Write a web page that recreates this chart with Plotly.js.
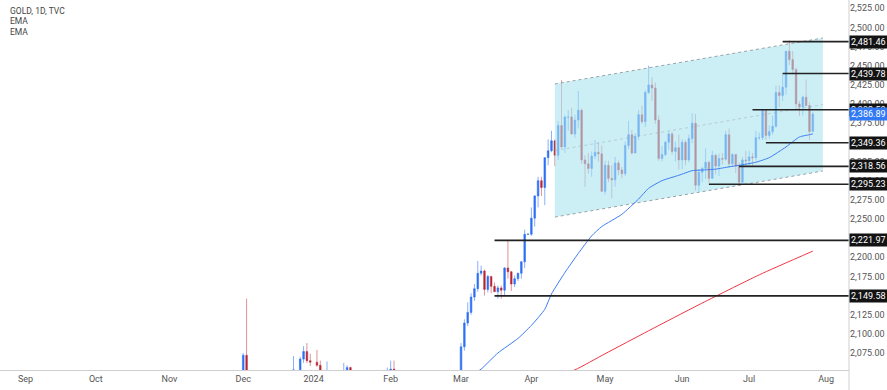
<!DOCTYPE html>
<html>
<head>
<meta charset="utf-8">
<script src="https://cdn.plot.ly/plotly-3.0.1.min.js"></script>
<style>
html,body{margin:0;padding:0;background:#fff;}
#chart{width:887px;height:390px;}
</style>
</head>
<body>
<div id="chart"></div>
<script>
// ---- Candles (daily, TVC:GOLD) ----
const dates = [
'2023-11-27','2023-11-28','2023-11-29','2023-11-30','2023-12-01','2023-12-04','2023-12-05','2023-12-06','2023-12-07','2023-12-08',
'2023-12-11','2023-12-12','2023-12-13','2023-12-14','2023-12-15','2023-12-18','2023-12-19','2023-12-20','2023-12-21','2023-12-22',
'2023-12-26','2023-12-27','2023-12-28','2023-12-29','2024-01-02','2024-01-03','2024-01-04','2024-01-05','2024-01-08','2024-01-09',
'2024-01-10','2024-01-11','2024-01-12','2024-01-15','2024-01-16','2024-01-17','2024-01-18','2024-01-19','2024-01-22','2024-01-23',
'2024-01-24','2024-01-25','2024-01-26','2024-01-29','2024-01-30','2024-01-31','2024-02-01','2024-02-02','2024-02-05','2024-02-06',
'2024-02-07','2024-02-08','2024-02-09','2024-02-12','2024-02-13','2024-02-14','2024-02-15','2024-02-16','2024-02-19','2024-02-20',
'2024-02-21','2024-02-22','2024-02-23','2024-02-26','2024-02-27','2024-02-28','2024-02-29','2024-03-01','2024-03-04','2024-03-05',
'2024-03-06','2024-03-07','2024-03-08','2024-03-11','2024-03-12','2024-03-13','2024-03-14','2024-03-15','2024-03-18','2024-03-19',
'2024-03-20','2024-03-21','2024-03-22','2024-03-25','2024-03-26','2024-03-27','2024-03-28','2024-03-29','2024-04-01','2024-04-02',
'2024-04-03','2024-04-04','2024-04-05','2024-04-08','2024-04-09','2024-04-10','2024-04-11','2024-04-12','2024-04-15','2024-04-16',
'2024-04-17','2024-04-18','2024-04-19','2024-04-22','2024-04-23','2024-04-24','2024-04-25','2024-04-26','2024-04-29','2024-04-30',
'2024-05-01','2024-05-02','2024-05-03','2024-05-06','2024-05-07','2024-05-08','2024-05-09','2024-05-10','2024-05-13','2024-05-14',
'2024-05-15','2024-05-16','2024-05-17','2024-05-20','2024-05-21','2024-05-22','2024-05-23','2024-05-24','2024-05-27','2024-05-28',
'2024-05-29','2024-05-30','2024-05-31','2024-06-03','2024-06-04','2024-06-05','2024-06-06','2024-06-07','2024-06-10','2024-06-11',
'2024-06-12','2024-06-13','2024-06-14','2024-06-17','2024-06-18','2024-06-19','2024-06-20','2024-06-21','2024-06-24','2024-06-25',
'2024-06-26','2024-06-27','2024-06-28','2024-07-01','2024-07-02','2024-07-03','2024-07-04','2024-07-05','2024-07-08','2024-07-09',
'2024-07-10','2024-07-11','2024-07-12','2024-07-15','2024-07-16','2024-07-17','2024-07-18','2024-07-19','2024-07-22','2024-07-23',
'2024-07-24','2024-07-25','2024-07-26'
];
const opens = [
2002,2013,2041,2044,2036,2072,2029,2019,2026,2028,
2004,1981,1979,2027,2036,2019,2027,2040,2031,2045,
2053,2067,2077,2065,2063,2059,2042,2043,2045,2028,
2029,2024,2029,2049,2056,2028,2006,2023,2029,2023,
2029,2014,2020,2018,2033,2037,2039,2054,2039,2025,
2035,2035,2034,2024,2020,1993,1992,2004,2013,2017,
2025,2026,2024,2036,2031,2030,2034,2044,2083,2114,
2128,2148,2159,2179,2182,2158,2175,2162,2155,2160,
2157,2186,2181,2165,2172,2179,2194,2230,2230,2251,
2280,2300,2291,2330,2339,2352,2333,2372,2344,2383,
2383,2361,2379,2392,2327,2322,2316,2332,2337,2335,
2286,2320,2303,2301,2323,2314,2309,2346,2360,2336,
2358,2386,2377,2415,2425,2421,2379,2329,2334,2350,
2361,2338,2343,2327,2350,2327,2355,2375,2294,2311,
2316,2324,2303,2333,2319,2329,2328,2360,2322,2334,
2319,2298,2327,2326,2331,2330,2356,2356,2392,2359,
2364,2371,2415,2411,2422,2469,2458,2445,2400,2396,
2409,2398,2364
];
const highs = [
2017,2048,2052,2051,2075,2146,2035,2035,2035,2036,
2009,1987,2030,2048,2048,2031,2047,2046,2047,2071,
2070,2084,2088,2074,2079,2065,2051,2064,2046,2041,
2040,2040,2062,2059,2057,2030,2025,2032,2033,2031,
2037,2025,2026,2036,2041,2056,2065,2065,2040,2039,
2043,2044,2037,2030,2032,1996,2005,2016,2021,2031,
2030,2035,2041,2038,2037,2040,2052,2088,2119,2141,
2153,2165,2195,2189,2184,2177,2175,2167,2163,2163,
2187,2222,2182,2176,2180,2195,2236,2231,2265,2281,
2305,2305,2330,2354,2365,2354,2378,2431,2385,2392,
2395,2386,2417,2394,2333,2336,2338,2353,2350,2346,
2326,2326,2320,2331,2326,2318,2351,2378,2366,2362,
2392,2398,2418,2450,2435,2428,2385,2345,2352,2364,
2364,2351,2360,2354,2353,2360,2388,2387,2315,2318,
2342,2326,2339,2335,2335,2336,2365,2368,2336,2335,
2324,2331,2339,2339,2336,2365,2363,2392,2393,2372,
2385,2424,2424,2440,2469,2483,2469,2447,2404,2411,
2432,2402,2390
];
const lows = [
2001,2012,2036,2031,2030,2018,2010,2016,2021,1995,
1976,1973,1975,2016,2016,2017,2024,2028,2029,2040,
2052,2062,2062,2058,2057,2030,2033,2024,2017,2022,
2021,2013,2028,2046,2028,2002,2005,2016,2016,2011,
2014,2010,2011,2016,2026,2031,2032,2032,2015,2021,
2030,2025,2021,2016,1990,1984,1990,1996,2011,2015,
2019,2020,2020,2025,2027,2024,2030,2039,2078,2110,
2125,2143,2155,2176,2150,2154,2153,2155,2146,2146,
2150,2172,2156,2161,2169,2172,2186,2229,2228,2240,
2265,2280,2268,2320,2337,2319,2327,2342,2336,2365,
2360,2356,2368,2322,2292,2309,2305,2328,2325,2285,
2282,2298,2277,2292,2307,2303,2306,2341,2334,2336,
2353,2374,2370,2413,2404,2374,2326,2325,2332,2340,
2334,2325,2314,2315,2320,2324,2349,2287,2286,2298,
2302,2296,2302,2308,2306,2321,2326,2317,2319,2310,
2293,2297,2319,2318,2319,2326,2353,2353,2353,2355,
2360,2369,2396,2404,2412,2451,2439,2392,2384,2385,
2397,2353,2364
];
const closes = [
2013,2041,2044,2036,2072,2029,2019,2026,2028,2004,
1981,1979,2027,2036,2019,2027,2040,2031,2045,2053,
2067,2077,2065,2063,2059,2042,2043,2045,2028,2029,
2024,2029,2049,2056,2028,2006,2023,2029,2023,2029,
2014,2020,2018,2033,2037,2039,2054,2039,2025,2035,
2035,2034,2024,2020,1993,1992,2004,2013,2017,2025,
2026,2024,2036,2031,2030,2034,2044,2083,2114,2128,
2148,2159,2179,2182,2158,2175,2162,2155,2160,2157,
2186,2181,2165,2172,2179,2194,2230,2230,2251,2280,
2300,2291,2330,2339,2352,2333,2372,2344,2383,2383,
2361,2379,2392,2327,2322,2316,2332,2337,2335,2286,
2320,2303,2301,2323,2314,2309,2346,2360,2336,2358,
2386,2377,2415,2425,2421,2379,2329,2334,2350,2361,
2338,2343,2327,2350,2327,2355,2375,2294,2311,2316,
2324,2303,2333,2319,2329,2328,2360,2322,2334,2319,
2298,2327,2326,2331,2330,2356,2356,2392,2359,2364,
2371,2415,2411,2422,2469,2458,2445,2400,2396,2409,
2398,2364,2386.89
];

// ---- EMA lines ----
const emaFastDates = ['2024-03-04','2024-03-11','2024-03-18','2024-03-26','2024-04-01','2024-04-05','2024-04-09','2024-04-15','2024-04-19','2024-04-25','2024-04-30','2024-05-08','2024-05-15','2024-05-20','2024-05-24','2024-05-31','2024-06-06','2024-06-12','2024-06-17','2024-06-21','2024-06-26','2024-07-03','2024-07-09','2024-07-16','2024-07-22','2024-07-25','2024-07-26'];
const emaFastValues = [2040,2054,2075,2094,2111,2132,2152,2180,2205,2228,2240,2256,2276,2290,2300,2307,2313,2314,2315,2318,2320,2324,2330,2344,2357,2360,2361];
const emaSlowDates = ['2024-04-10','2024-04-18','2024-05-01','2024-05-20','2024-06-10','2024-07-04','2024-07-26'];
const emaSlowValues = [2044,2053,2074,2104,2138,2177,2208];

// ---- Channel ----
const channelDates = ['2024-04-10','2024-07-31'];
const channelTop = [2426.2, 2486.2];
const channelBottom = [2252.5, 2312.6];

// ---- Horizontal levels ----
const levelValues = [2481.46, 2439.78, 2392.50, 2349.36, 2318.56, 2295.23, 2221.97, 2149.58];
const levelStarts = ['2024-07-15','2024-07-15','2024-07-02','2024-07-08','2024-06-26','2024-06-13','2024-03-15','2024-03-15'];
const lastPrice = 2386.89;

// ---- Axis ticks ----
const xTickDates = ['2023-09-01','2023-10-02','2023-11-01','2023-12-01','2024-01-01','2024-02-01','2024-03-01','2024-04-01','2024-05-01','2024-06-03','2024-07-01','2024-08-01'];
const xTickLabels = ['Sep','Oct','Nov','Dec','2024','Feb','Mar','Apr','May','Jun','Jul','Aug'];

const xRange = ['2023-08-22 09:36','2024-08-09 19:12'];
const yRange = [2052.8, 2535.8];

const fontFam = 'Roboto, "Open Sans", "DejaVu Sans", sans-serif';
const fmt = v => v.toLocaleString('en-US',{minimumFractionDigits:2, maximumFractionDigits:2});

const traces = [];
// channel fill
traces.push({
  type:'scatter', mode:'lines',
  x:[channelDates[0],channelDates[1],channelDates[1],channelDates[0],channelDates[0]],
  y:[channelBottom[0],channelBottom[1],channelTop[1],channelTop[0],channelBottom[0]],
  fill:'toself', fillcolor:'rgba(170,228,240,0.6)', line:{width:0}, hoverinfo:'skip', showlegend:false
});
traces.push({type:'scatter',mode:'lines',x:channelDates,y:channelTop,line:{color:'#9aa3a8',width:1,dash:'dot'},hoverinfo:'skip',showlegend:false});
traces.push({type:'scatter',mode:'lines',x:channelDates,y:channelBottom,line:{color:'#9aa3a8',width:1,dash:'dot'},hoverinfo:'skip',showlegend:false});
traces.push({type:'scatter',mode:'lines',x:channelDates,y:[(channelTop[0]+channelBottom[0])/2,(channelTop[1]+channelBottom[1])/2],line:{color:'rgba(150,160,165,0.45)',width:1,dash:'dot'},hoverinfo:'skip',showlegend:false});
// EMAs
traces.push({type:'scatter',mode:'lines',x:emaSlowDates,y:emaSlowValues,line:{color:'#f23645',width:1,shape:'spline',smoothing:0.6},hoverinfo:'skip',showlegend:false});
traces.push({type:'scatter',mode:'lines',x:emaFastDates,y:emaFastValues,line:{color:'#3d7cf2',width:1,shape:'spline',smoothing:0.5},hoverinfo:'skip',showlegend:false});
// candles
traces.push({
  type:'candlestick', x:dates, open:opens, high:highs, low:lows, close:closes,
  increasing:{line:{color:'rgba(41,110,245,0.55)',width:1}, fillcolor:'#2f70f2'},
  decreasing:{line:{color:'rgba(190,40,55,0.5)',width:1}, fillcolor:'#b8232f'},
  whiskerwidth:0, hoverinfo:'skip', showlegend:false
});

const shapes = [];
levelValues.forEach((v,i)=>{
  shapes.push({type:'line', xref:'x', yref:'y', x0:levelStarts[i], x1:xRange[1], y0:v, y1:v,
    line:{color:'#222',width:1.6}});
});
// right border line
shapes.push({type:'line', xref:'paper', yref:'paper', x0:1, x1:1, y0:-0.06, y1:1, line:{color:'#cfcfcf',width:1}});

const annotations = [];
levelValues.forEach(v=>{
  annotations.push({xref:'paper', yref:'y', x:1, y:v, xanchor:'left', yanchor:'middle', xshift:0,
    text:fmt(v), showarrow:false, bgcolor:'#131313', borderpad:1,
    font:{family:fontFam, size:9, color:'#ffffff'}});
});
annotations.push({xref:'paper', yref:'y', x:1, y:lastPrice, xanchor:'left', yanchor:'middle',
  text:fmt(lastPrice), showarrow:false, bgcolor:'#3179f5', borderpad:1,
  font:{family:fontFam, size:9, color:'#ffffff'}});
const legendLines = ['GOLD, 1D, TVC','EMA','EMA'];
legendLines.forEach((t,i)=>{
  annotations.push({xref:'paper', yref:'paper', x:8/849, y:1-(11+i*10.5)/370, xanchor:'left', yanchor:'middle',
    text:t, showarrow:false, font:{family:fontFam, size:8.5, color:'#444'}});
});

const layout = {
  width:887, height:390,
  margin:{l:0, r:38, t:0, b:20},
  paper_bgcolor:'#ffffff', plot_bgcolor:'#ffffff',
  showlegend:false,
  font:{family:fontFam, size:9, color:'#555'},
  xaxis:{
    type:'date', range:xRange, rangebreaks:[{bounds:['sat','mon']}],
    tickmode:'array', tickvals:xTickDates, ticktext:xTickLabels,
    showgrid:false, zeroline:false, ticks:'', showline:true, linecolor:'#cfcfcf', linewidth:1,
    tickfont:{family:fontFam, size:9, color:'#555'},
    rangeslider:{visible:false}, fixedrange:true
  },
  yaxis:{
    side:'right', range:yRange, tick0:0, dtick:25, tickformat:',.2f',
    showgrid:false, zeroline:false, ticks:'', showline:false,
    tickfont:{family:fontFam, size:9, color:'#555'}, fixedrange:true
  },
  shapes:shapes,
  annotations:annotations
};

Plotly.newPlot('chart', traces, layout, {displayModeBar:false, staticPlot:true});
</script>
</body>
</html>
